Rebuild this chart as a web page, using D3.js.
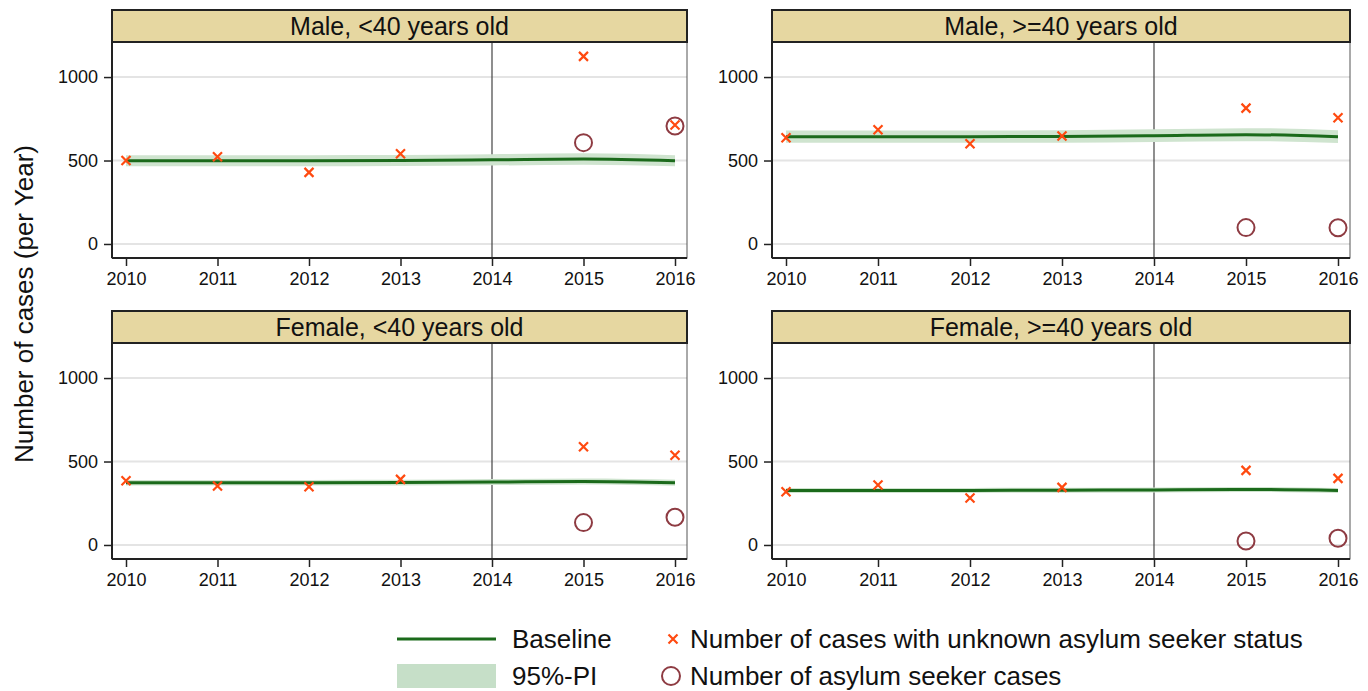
<!DOCTYPE html>
<html>
<head>
<meta charset="utf-8">
<script src="https://d3js.org/d3.v7.min.js"></script>
<style>
  body { margin: 0; background: #fff; }
  text { font-family: "Liberation Sans", Arial, sans-serif; fill: #111; }
</style>
</head>
<body>
<div id="chart"></div>
<script>
// years on the x axis
var years = [2010, 2011, 2012, 2013, 2014, 2015, 2016];
var xTicks = [2010, 2011, 2012, 2013, 2014, 2015, 2016];
var yTicks = [0, 500, 1000];

var panelTitles = ["Male, <40 years old", "Male, >=40 years old",
                   "Female, <40 years old", "Female, >=40 years old"];

// number of cases with unknown asylum seeker status (no value for 2014)
var unknownMaleYoung   = [500, 523, 429, 541, null, 1124, 713];
var unknownMaleOld     = [636, 684, 600, 647, null, 814, 756];
var unknownFemaleYoung = [385, 353, 349, 393, null, 589, 537];
var unknownFemaleOld   = [319, 359, 281, 345, null, 447, 399];

// number of asylum seeker cases
var asylumMaleYoung   = [null, null, null, null, null, 607, 707];
var asylumMaleOld     = [null, null, null, null, null, 98, 97];
var asylumFemaleYoung = [null, null, null, null, null, 134, 166];
var asylumFemaleOld   = [null, null, null, null, null, 24, 40];

// baseline
var baseMaleYoung   = [499, 499, 499, 500, 504, 509, 499];
var baseMaleOld     = [643, 643, 643, 644, 649, 655, 643];
var baseFemaleYoung = [373, 373, 373, 374, 377, 381, 373];
var baseFemaleOld   = [327, 327, 327, 328, 330, 333, 327];

// 95% prediction interval
var loMaleYoung   = [466, 466, 466, 467, 470, 475, 466];
var hiMaleYoung   = [532, 532, 532, 533, 538, 543, 532];
var loMaleOld     = [606, 606, 606, 607, 611, 616, 605];
var hiMaleOld     = [680, 680, 680, 681, 687, 694, 681];
var loFemaleYoung = [356, 356, 356, 357, 359, 363, 355];
var hiFemaleYoung = [390, 390, 390, 391, 395, 399, 391];
var loFemaleOld   = [312, 312, 312, 313, 315, 318, 312];
var hiFemaleOld   = [342, 342, 342, 343, 345, 348, 342];

var unknownAll = [unknownMaleYoung, unknownMaleOld, unknownFemaleYoung, unknownFemaleOld];
var asylumAll  = [asylumMaleYoung, asylumMaleOld, asylumFemaleYoung, asylumFemaleOld];
var baseAll    = [baseMaleYoung, baseMaleOld, baseFemaleYoung, baseFemaleOld];
var loAll      = [loMaleYoung, loMaleOld, loFemaleYoung, loFemaleOld];
var hiAll      = [hiMaleYoung, hiMaleOld, hiFemaleYoung, hiFemaleOld];

var W = 1368, H = 691;
var colGreen = "#1b6a1b", colBand = "#cfe4cf", colCross = "#ff4a10", colCircle = "#8e3b42";

var svg = d3.select("#chart")
  .append("svg")
    .attr("width", W)
    .attr("height", H);

// panel boxes: left, right, top of header
var panels = [
  {left: 112, right: 687, top: 10},
  {left: 772, right: 1350, top: 10},
  {left: 112, right: 687, top: 311},
  {left: 772, right: 1350, top: 311}
];
var headerH = 32, plotH = 216;

// x shaped marker
var cross = function(g, cx, cy, s) {
  g.append("path")
    .attr("d", "M" + (cx - s) + "," + (cy - s) + "L" + (cx + s) + "," + (cy + s) +
               "M" + (cx - s) + "," + (cy + s) + "L" + (cx + s) + "," + (cy - s))
    .attr("stroke", colCross)
    .attr("stroke-width", 2.2)
    .attr("fill", "none");
};

panels.forEach(function(p, i) {
  var g = svg.append("g");
  var plotTop = p.top + headerH, plotBottom = plotTop + plotH;

  var x = d3.scaleLinear().domain([2010, 2016]).range([p.left + 14, p.right - 12]);
  var y = d3.scaleLinear().domain([-84, 1210]).range([plotBottom, plotTop]);

  // grid lines
  g.selectAll(".grid")
    .data(yTicks)
    .enter()
    .append("line")
      .attr("x1", p.left).attr("x2", p.right)
      .attr("y1", function(d) { return y(d); })
      .attr("y2", function(d) { return y(d); })
      .attr("stroke", "#e4e4e4")
      .attr("stroke-width", 2);

  // 2014 reference line
  g.append("line")
    .attr("x1", x(2014)).attr("x2", x(2014))
    .attr("y1", plotTop).attr("y2", plotBottom)
    .attr("stroke", "#444")
    .attr("stroke-width", 1.2);

  var idx = d3.range(years.length);

  // 95%-PI band
  g.append("path")
    .datum(idx)
    .attr("d", d3.area()
      .x(function(j) { return x(years[j]); })
      .y0(function(j) { return y(loAll[i][j]); })
      .y1(function(j) { return y(hiAll[i][j]); })
      .curve(d3.curveMonotoneX))
    .attr("fill", colBand);

  // baseline
  g.append("path")
    .datum(idx)
    .attr("d", d3.line()
      .x(function(j) { return x(years[j]); })
      .y(function(j) { return y(baseAll[i][j]); })
      .curve(d3.curveMonotoneX))
    .attr("stroke", colGreen)
    .attr("stroke-width", 3)
    .attr("fill", "none");

  // asylum seeker cases
  g.selectAll(".asy")
    .data(idx.filter(function(j) { return asylumAll[i][j] != null; }))
    .enter()
    .append("circle")
      .attr("cx", function(j) { return x(years[j]); })
      .attr("cy", function(j) { return y(asylumAll[i][j]); })
      .attr("r", 8.5)
      .attr("fill", "none")
      .attr("stroke", colCircle)
      .attr("stroke-width", 2);

  // unknown status cases
  idx.filter(function(j) { return unknownAll[i][j] != null; }).forEach(function(j) {
    cross(g, x(years[j]), y(unknownAll[i][j]), 4.5);
  });

  // frame
  g.append("rect")
    .attr("x", p.left).attr("y", plotTop)
    .attr("width", p.right - p.left).attr("height", plotH)
    .attr("fill", "none")
    .attr("stroke", "#555")
    .attr("stroke-width", 1);

  // header strip
  g.append("rect")
    .attr("x", p.left).attr("y", p.top)
    .attr("width", p.right - p.left).attr("height", headerH)
    .attr("fill", "#e6d7a1")
    .attr("stroke", "#222")
    .attr("stroke-width", 2);
  g.append("text")
    .attr("x", (p.left + p.right) / 2)
    .attr("y", p.top + headerH / 2 + 9)
    .attr("text-anchor", "middle")
    .style("font-size", "25px")
    .text(panelTitles[i]);

  // X axis
  var xa = g.append("g")
    .attr("transform", "translate(0," + plotBottom + ")")
    .call(d3.axisBottom(x).tickValues(xTicks).tickFormat(d3.format("d")).tickSizeInner(8).tickSizeOuter(0).tickPadding(6));
  xa.select(".domain").remove();
  xa.selectAll(".tick line").attr("stroke", "#222").attr("stroke-width", 1.5);
  xa.selectAll(".tick text").style("font-size", "18px").attr("fill", "#111");
  g.append("line")
    .attr("x1", p.left).attr("x2", p.right)
    .attr("y1", plotBottom).attr("y2", plotBottom)
    .attr("stroke", "#222").attr("stroke-width", 2);

  // Y axis
  var ya = g.append("g")
    .attr("transform", "translate(" + p.left + ",0)")
    .call(d3.axisLeft(y).tickValues(yTicks).tickFormat(d3.format("d")).tickSizeInner(8).tickSizeOuter(0).tickPadding(6));
  ya.select(".domain").remove();
  ya.selectAll(".tick line").attr("stroke", "#222").attr("stroke-width", 1.5);
  ya.selectAll(".tick text").style("font-size", "18px").attr("fill", "#111");
  g.append("line")
    .attr("x1", p.left).attr("x2", p.left)
    .attr("y1", plotTop).attr("y2", plotBottom)
    .attr("stroke", "#222").attr("stroke-width", 2);
});

// Y axis title
svg.append("text")
  .attr("transform", "translate(33,304) rotate(-90)")
  .attr("text-anchor", "middle")
  .style("font-size", "26px")
  .text("Number of cases (per Year)");

// legend
var lg = svg.append("g");
lg.append("line")
  .attr("x1", 397).attr("x2", 496).attr("y1", 639).attr("y2", 639)
  .attr("stroke", colGreen).attr("stroke-width", 3);
lg.append("text").attr("x", 512).attr("y", 648).style("font-size", "26px").text("Baseline");
lg.append("rect")
  .attr("x", 397).attr("y", 664).attr("width", 99).attr("height", 24)
  .attr("fill", "#c6dfc8");
lg.append("text").attr("x", 512).attr("y", 685).style("font-size", "26px").text("95%-PI");
cross(lg, 673, 639, 4.5);
lg.append("text").attr("x", 690).attr("y", 648).style("font-size", "26px")
  .text("Number of cases with unknown asylum seeker status");
lg.append("circle")
  .attr("cx", 671).attr("cy", 676).attr("r", 9)
  .attr("fill", "none").attr("stroke", colCircle).attr("stroke-width", 2);
lg.append("text").attr("x", 690).attr("y", 685).style("font-size", "26px")
  .text("Number of asylum seeker cases");
</script>
</body>
</html>
